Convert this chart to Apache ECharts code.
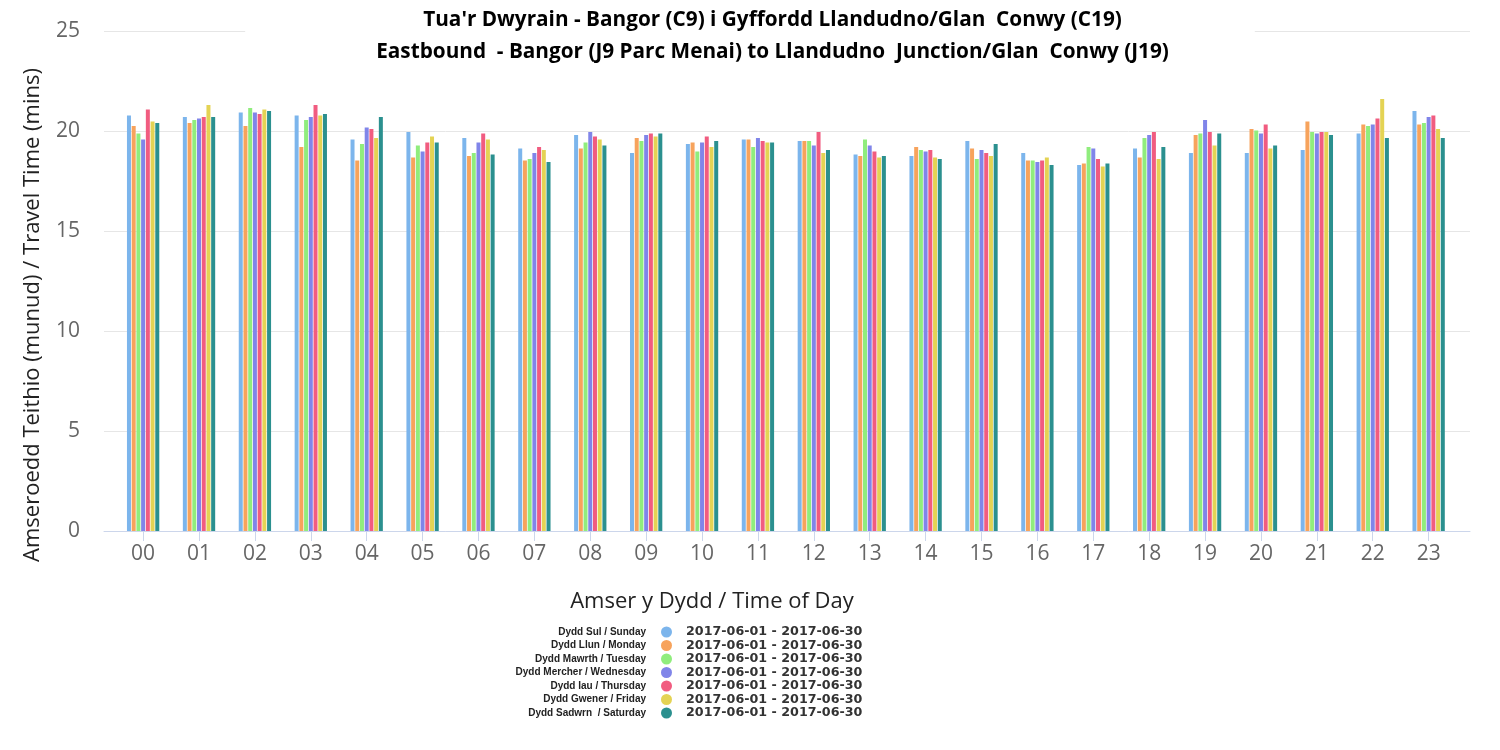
<!DOCTYPE html>
<html>
<head>
<meta charset="utf-8">
<script src="https://cdn.jsdelivr.net/npm/echarts@6/dist/echarts.min.js"></script>
<style>html,body{margin:0;padding:0;background:#fff}#c{width:1500px;height:750px}</style>
</head>
<body>
<div id="c"></div>
<script>
var hours = ['00','01','02','03','04','05','06','07','08','09','10','11','12','13','14','15','16','17','18','19','20','21','22','23'];
var dayNames = ['Dydd Sul / Sunday','Dydd Llun / Monday','Dydd Mawrth / Tuesday','Dydd Mercher / Wednesday','Dydd Iau / Thursday','Dydd Gwener / Friday','Dydd Sadwrn  / Saturday'];
var dateRange = '2017-06-01 - 2017-06-30';
var sunday    = [20.78,20.7,20.93,20.78,19.58,19.95,19.65,19.13,19.8,18.9,19.35,19.58,19.5,18.83,18.75,19.5,18.9,18.3,19.13,18.9,18.9,19.05,19.87,21.0];
var monday    = [20.25,20.4,20.25,19.2,18.53,18.68,18.75,18.53,19.13,19.65,19.43,19.58,19.5,18.75,19.2,19.13,18.53,18.38,18.68,19.8,20.1,20.48,20.33,20.33];
var tuesday   = [19.88,20.55,21.15,20.55,19.35,19.28,18.9,18.6,19.43,19.5,18.98,19.2,19.5,19.58,19.05,18.6,18.53,19.2,19.65,19.88,20.03,19.95,20.25,20.4];
var wednesday = [19.58,20.62,20.93,20.7,20.18,18.98,19.43,18.9,19.95,19.8,19.43,19.65,19.28,19.28,18.98,19.05,18.45,19.13,19.8,20.55,19.88,19.87,20.33,20.7];
var thursday  = [21.08,20.7,20.85,21.3,20.1,19.43,19.88,19.2,19.73,19.88,19.73,19.5,19.95,18.98,19.05,18.9,18.53,18.6,19.95,19.95,20.33,19.95,20.63,20.78];
var friday    = [20.48,21.3,21.08,20.78,19.65,19.73,19.58,19.05,19.58,19.73,19.2,19.43,18.9,18.68,18.68,18.75,18.68,18.23,18.6,19.28,19.13,19.95,21.6,20.1];
var saturday  = [20.4,20.7,21.0,20.85,20.7,19.43,18.83,18.45,19.28,19.88,19.5,19.43,19.05,18.75,18.6,19.35,18.3,18.38,19.2,19.88,19.28,19.8,19.65,19.65];
var yTicks = [0,5,10,15,20,25];

var seriesValues = [sunday, monday, tuesday, wednesday, thursday, friday, saturday];
var colors = ['#7cb5ec','#f7a35c','#90ed7d','#8085e9','#f15c80','#e4d354','#2b908f'];
var hourIdx = hours.map(function(h, i){ return i; });

var chart = echarts.init(document.getElementById('c'));
var series = seriesValues.map(function(vals, k){
  return {
    name: dayNames[k],
    type: 'bar',
    barWidth: 4,
    barGap: '18%',
    itemStyle: { color: colors[k] },
    data: vals.map(function(v, i){ return [i, v]; })
  };
});

chart.setOption({
  backgroundColor: '#fff',
  animation: false,
  color: colors,
  title: {
    text: "Tua'r Dwyrain - Bangor (C9) i Gyffordd Llandudno/Glan  Conwy (C19)\nEastbound  - Bangor (J9 Parc Menai) to Llandudno  Junction/Glan  Conwy (J19)",
    left: 641.5,
    top: 0,
    textAlign: 'center',
    padding: [4, 86, 2, 131],
    backgroundColor: '#fff',
    textStyle: {
      fontFamily: 'Open Sans',
      fontWeight: 'bold',
      fontSize: 20.75,
      lineHeight: 32,
      color: '#000'
    }
  },
  grid: { left: 104, right: 30, top: 31, bottom: 219, containLabel: false },
  xAxis: {
    type: 'value',
    min: -0.7,
    max: 23.74,
    name: 'Amser y Dydd / Time of Day',
    nameLocation: 'middle',
    nameGap: 60,
    nameTextStyle: { fontFamily: 'Open Sans', fontSize: 22, color: '#222', padding: [0, 150, 0, 0] },
    axisLine: { show: true, lineStyle: { color: '#ccd6eb', width: 1 } },
    axisTick: { show: true, length: 10, lineStyle: { color: '#ccd6eb' }, customValues: hourIdx },
    axisLabel: {
      customValues: hourIdx,
      formatter: function(v){ return hours[Math.round(v)]; },
      fontFamily: 'Open Sans', fontSize: 21, color: '#666', margin: 13
    },
    splitLine: { show: false }
  },
  yAxis: {
    type: 'value',
    min: 0,
    max: 25,
    interval: 5,
    name: 'Amseroedd Teithio (munud) / Travel Time (mins)',
    nameLocation: 'middle',
    nameGap: 60,
    nameTextStyle: { fontFamily: 'Open Sans', fontSize: 22, color: '#222', padding: [0, 68, 0, 0] },
    axisLine: { show: false },
    axisTick: { show: false },
    axisLabel: { fontFamily: 'Open Sans', fontSize: 21, color: '#666', margin: 24 },
    splitLine: { lineStyle: { color: '#e6e6e6', width: 1 } }
  },
  legend: [
    {
      data: dayNames,
      orient: 'vertical',
      align: 'right',
      right: 828,
      top: 626.5,
      padding: 0,
      itemGap: 2.5,
      itemWidth: 11,
      itemHeight: 11,
      icon: 'circle',
      selectedMode: false,
      textStyle: { fontFamily: 'Liberation Sans', fontWeight: 'bold', fontSize: 10, color: '#222', lineHeight: 11, padding: [0, 10, 0, 0] }
    },
    {
      data: dayNames,
      orient: 'vertical',
      align: 'left',
      left: 681,
      top: 625.5,
      padding: 0,
      itemGap: 0.5,
      itemWidth: 0,
      itemHeight: 11,
      icon: 'rect',
      selectedMode: false,
      formatter: function(){ return dateRange; },
      textStyle: { fontFamily: 'DejaVu Sans', fontWeight: 'bold', fontSize: 12.7, color: '#333', lineHeight: 11 }
    }
  ],
  series: series
});
</script>
</body>
</html>
